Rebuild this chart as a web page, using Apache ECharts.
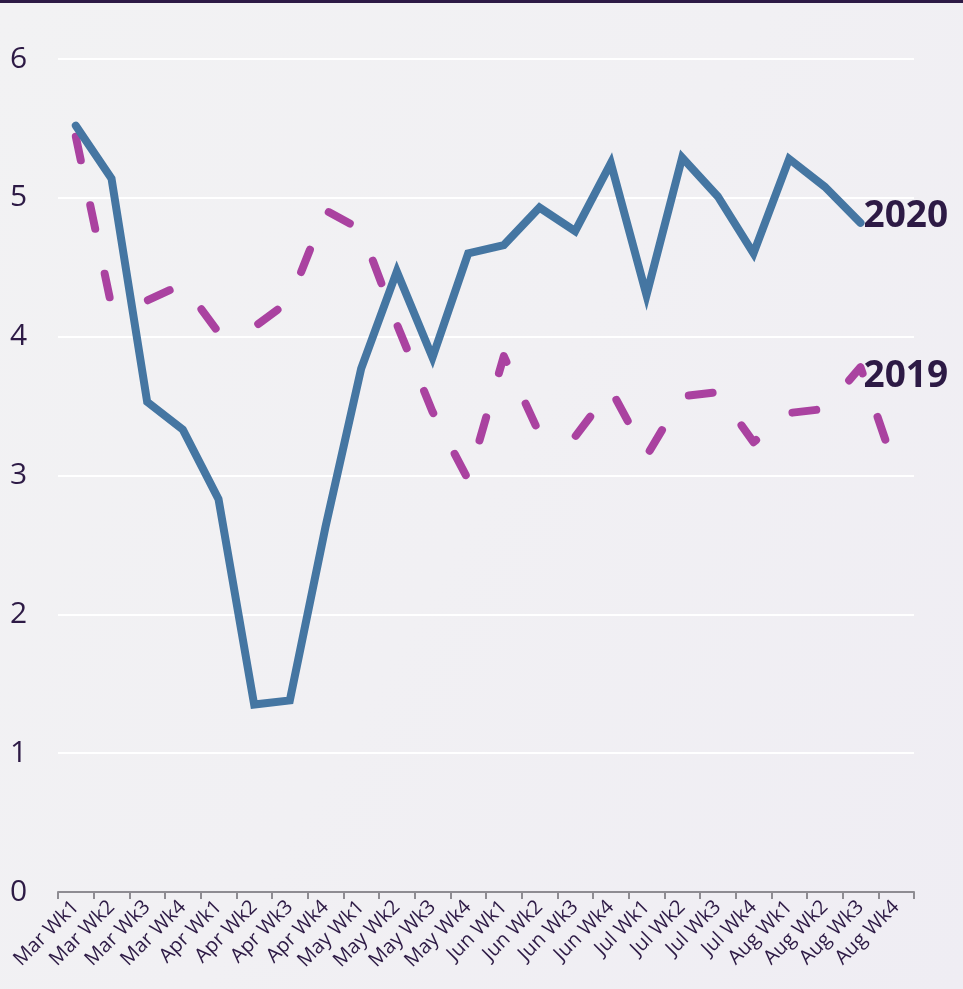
<!DOCTYPE html>
<html>
<head>
<meta charset="utf-8">
<script src="https://cdn.jsdelivr.net/npm/echarts@6/dist/echarts.min.js"></script>
<style>
  html, body { margin: 0; padding: 0; }
  body { width: 963px; height: 989px; background: linear-gradient(120deg, #f2f2f3 0%, #f1f0f3 50%, #efedf3 100%); border-top: 3px solid #2d1a45; box-sizing: border-box; }
  #chart { width: 963px; height: 986px; }
</style>
</head>
<body>
<div id="chart"></div>
<script>
const weeks = ['Mar Wk1','Mar Wk2','Mar Wk3','Mar Wk4','Apr Wk1','Apr Wk2','Apr Wk3','Apr Wk4',
  'May Wk1','May Wk2','May Wk3','May Wk4','Jun Wk1','Jun Wk2','Jun Wk3','Jun Wk4',
  'Jul Wk1','Jul Wk2','Jul Wk3','Jul Wk4','Aug Wk1','Aug Wk2','Aug Wk3','Aug Wk4']

const y2020 = [5.52, 5.14, 3.53, 3.33, 2.83, 1.35, 1.38, 2.63, 3.77, 4.47, 3.85, 4.60,
  4.66, 4.93, 4.76, 5.25, 4.30, 5.29, 5.01, 4.60, 5.28, 5.08, 4.82, null]

const y2019 = [5.44, 4.22, 4.26, 4.38, 4.03, 4.07, 4.26, 4.91, 4.77, 4.09, 3.46, 2.97,
  3.86, 3.30, 3.28, 3.62, 3.14, 3.57, 3.60, 3.24, 3.45, 3.48, 3.78, 3.03]

const labelIdx = 22
const ink = '#2d1a45'

function withLabel(vals, text, dy) {
  return vals.map((v, i) => i === labelIdx ? {
    value: v,
    symbol: 'circle', symbolSize: 2,
    itemStyle: { color: 'rgba(0,0,0,0)', borderWidth: 0 },
    label: { show: true, position: 'right', distance: 2, offset: [0, dy], formatter: text,
      fontSize: 37, fontWeight: 'bold', color: ink, fontFamily: 'Open Sans' }
  } : v)
}

const chart = echarts.init(document.getElementById('chart'), undefined, { renderer: 'canvas' })
chart.setOption({
  animation: false,
  grid: { top: 56, right: 49, bottom: 97, left: 58 },
  xAxis: {
    type: 'category', data: weeks, boundaryGap: true,
    axisLine: { lineStyle: { color: '#8e8c92', width: 2 } },
    axisTick: { show: true, length: 7, lineStyle: { color: '#8e8c92', width: 2 } },
    axisLabel: { rotate: 45, interval: 0, color: ink, fontSize: 20, margin: 12, fontFamily: 'Open Sans' },
  },
  yAxis: {
    type: 'value', min: 0, max: 6, interval: 1,
    axisLine: { show: false }, axisTick: { show: false },
    axisLabel: { color: ink, fontSize: 30, align: 'left', margin: 48, fontFamily: 'Open Sans' },
    splitLine: { lineStyle: { color: '#ffffff', width: 2 } },
  },
  series: [
    {
      name: '2019', type: 'line', data: withLabel(y2019, '2019', 9),
      symbol: 'none', showSymbol: true, z: 2,
      lineStyle: { color: '#aa42a0', width: 8, type: [24, 46], cap: 'round', join: 'round' },
    },
    {
      name: '2020', type: 'line', data: withLabel(y2020, '2020', -6),
      symbol: 'none', showSymbol: true, z: 3,
      lineStyle: { color: '#4576a2', width: 8, cap: 'round', join: 'miter' },
    },
  ],
})
</script>
</body>
</html>
